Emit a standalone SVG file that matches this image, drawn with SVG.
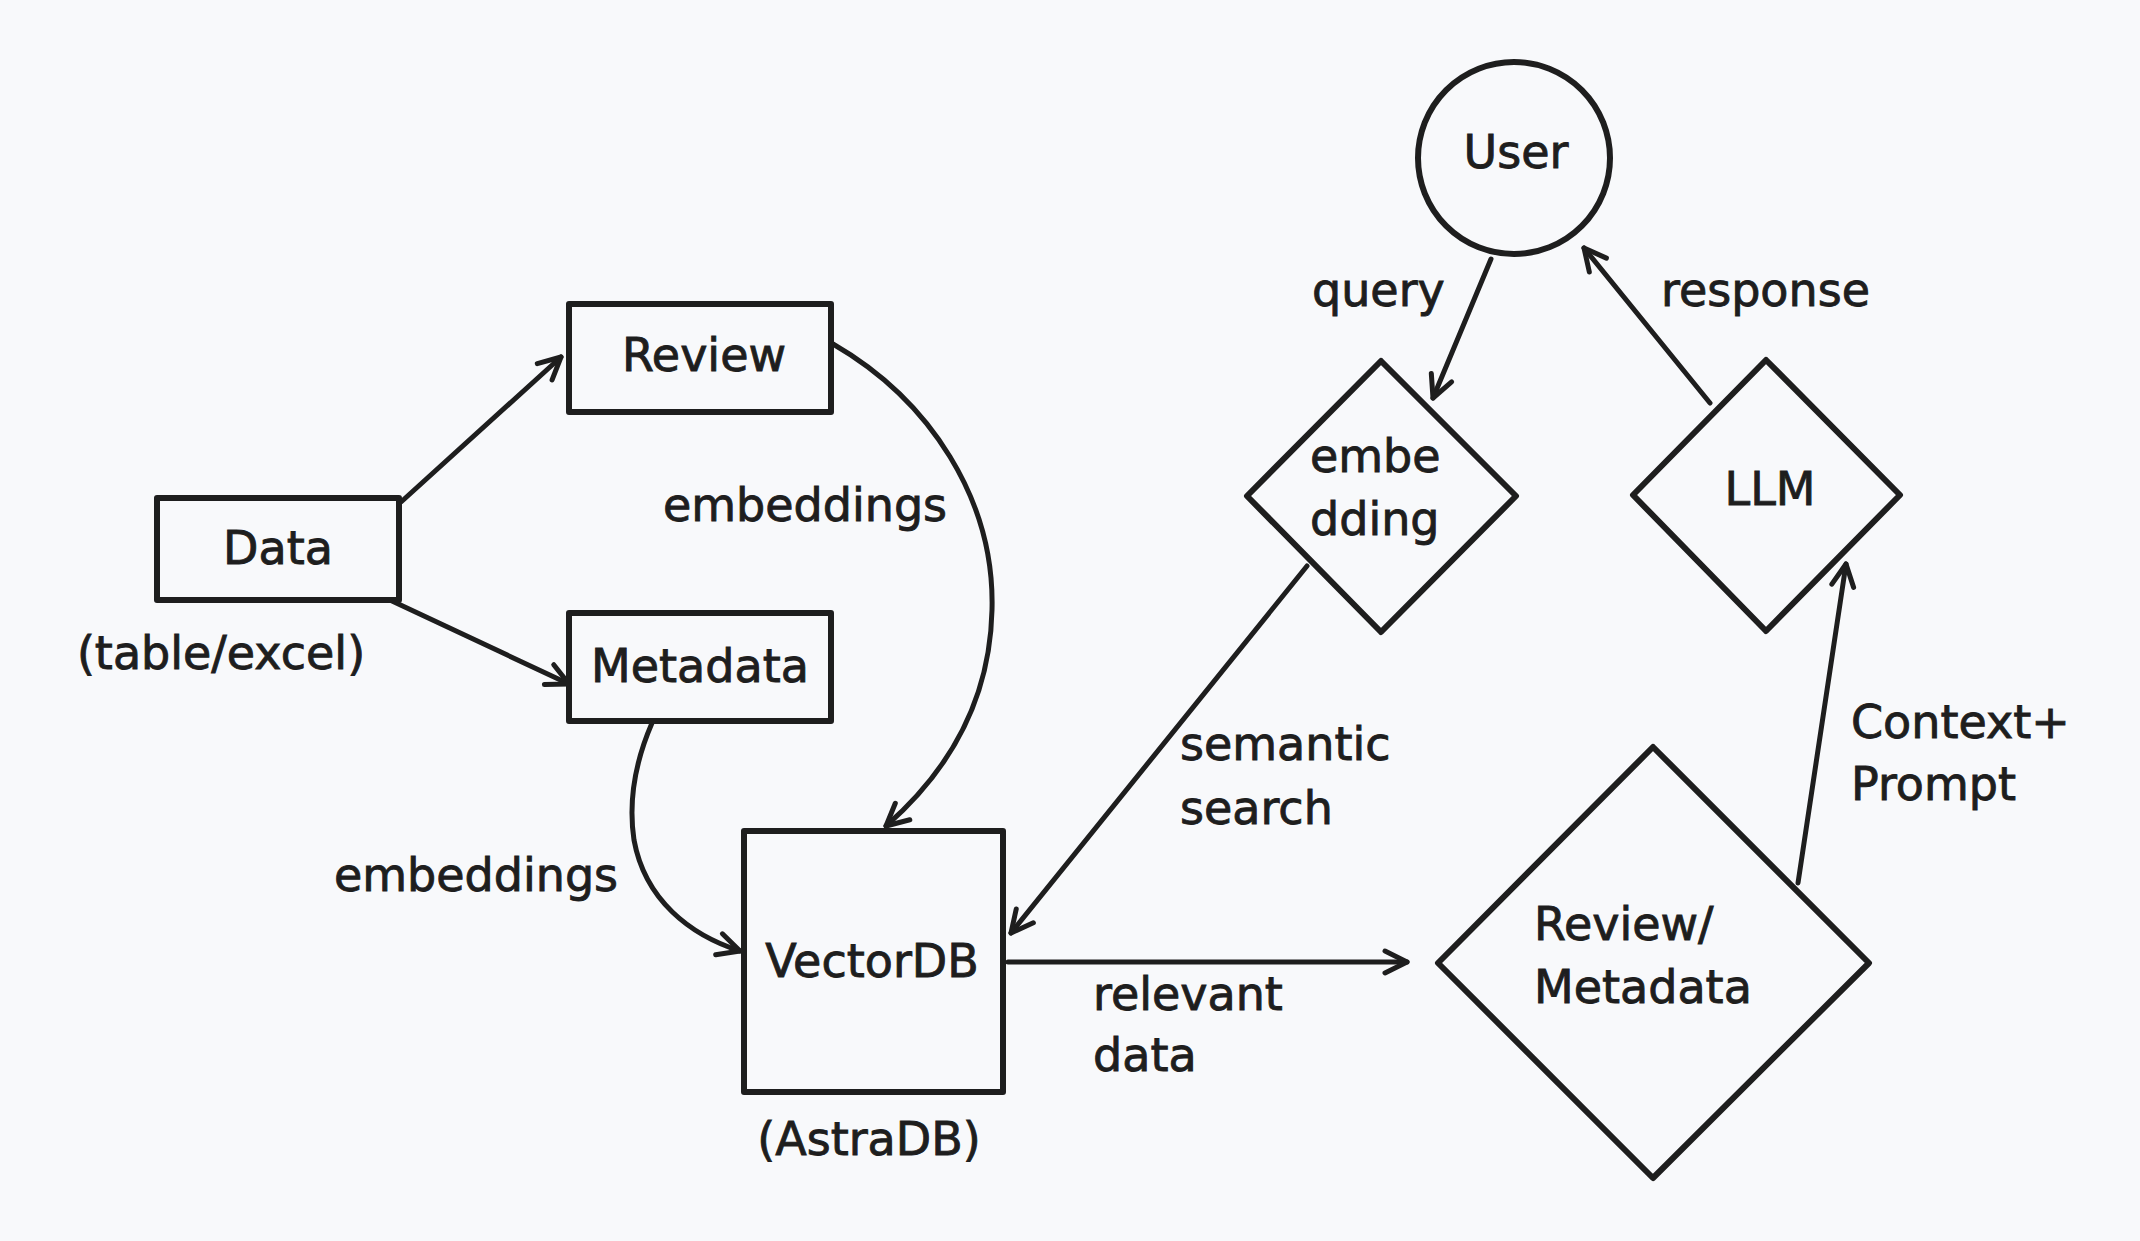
<svg xmlns="http://www.w3.org/2000/svg" width="2140" height="1241" viewBox="0 0 2140 1241">
<style>
.shape{fill:none;stroke:#1e1e1e;stroke-width:6;stroke-linejoin:round}
.conn{fill:none;stroke:#1e1e1e;stroke-width:5;stroke-linecap:round;marker-end:url(#arr)}
text{font-family:"DejaVu Sans",sans-serif;font-size:46px;fill:#1e1e1e;stroke:#1e1e1e;stroke-width:0.9}
.c{text-anchor:middle}
</style>
<defs>
<marker id="arr" viewBox="0 0 30 30" refX="27" refY="15" markerWidth="30" markerHeight="30" markerUnits="userSpaceOnUse" orient="auto">
<path d="M5,4 L27,15 L5,26" fill="none" stroke="#1e1e1e" stroke-width="5" stroke-linecap="round" stroke-linejoin="round"/>
</marker>
</defs>
<rect width="2140" height="1241" fill="#f8f9fb"/>
<g id="connectors">
<line class="conn" x1="401" y1="502" x2="561" y2="357"/>
<line class="conn" x1="392" y1="601" x2="569" y2="684"/>
<path class="conn" d="M833,344 C930,400 995,500 992,610 C990,700 950,770 886,826"/>
<path class="conn" d="M652,723 C636,760 628,800 634,840 C645,900 690,935 740,951"/>
<line class="conn" x1="1491" y1="259" x2="1433" y2="398"/>
<line class="conn" x1="1710" y1="403" x2="1584" y2="248"/>
<line class="conn" x1="1307" y1="566" x2="1011" y2="933"/>
<line class="conn" x1="1008" y1="962" x2="1407" y2="962"/>
<line class="conn" x1="1798" y1="883" x2="1846" y2="564"/>
<text x="805" y="521" class="c">embeddings</text>
<text x="476" y="891" class="c">embeddings</text>
<text x="1312" y="306">query</text>
<text x="1661" y="306">response</text>
<text x="1180" y="760">semantic</text>
<text x="1180" y="824">search</text>
<text x="1093" y="1010">relevant</text>
<text x="1093" y="1071">data</text>
<text x="1851" y="738">Context+</text>
<text x="1851" y="800">Prompt</text>
</g>
<g id="data">
<rect class="shape" x="157" y="498" width="242" height="102"/>
<text x="278" y="564" class="c">Data</text>
<text x="221" y="669" class="c">(table/excel)</text>
</g>
<g id="review">
<rect class="shape" x="569" y="304" width="262" height="108"/>
<text x="704" y="371" class="c">Review</text>
</g>
<g id="metadata">
<rect class="shape" x="569" y="613" width="262" height="108"/>
<text x="700" y="682" class="c">Metadata</text>
</g>
<g id="vectordb">
<rect class="shape" x="744" y="831" width="259" height="261"/>
<text x="872" y="977" class="c">VectorDB</text>
<text x="869" y="1155" class="c">(AstraDB)</text>
</g>
<g id="user">
<circle class="shape" cx="1514" cy="158" r="96"/>
<text x="1516" y="168" class="c">User</text>
</g>
<g id="embedding">
<polygon class="shape" points="1381,361 1516,496 1381,632 1247,496"/>
<text x="1310" y="472">embe</text>
<text x="1310" y="535">dding</text>
</g>
<g id="llm">
<polygon class="shape" points="1766,360 1900,495 1766,631 1633,495"/>
<text x="1770" y="505" class="c">LLM</text>
</g>
<g id="review-metadata">
<polygon class="shape" points="1653,747 1869,963 1653,1178 1438,963"/>
<text x="1534" y="940">Review/</text>
<text x="1534" y="1003">Metadata</text>
</g>
</svg>
